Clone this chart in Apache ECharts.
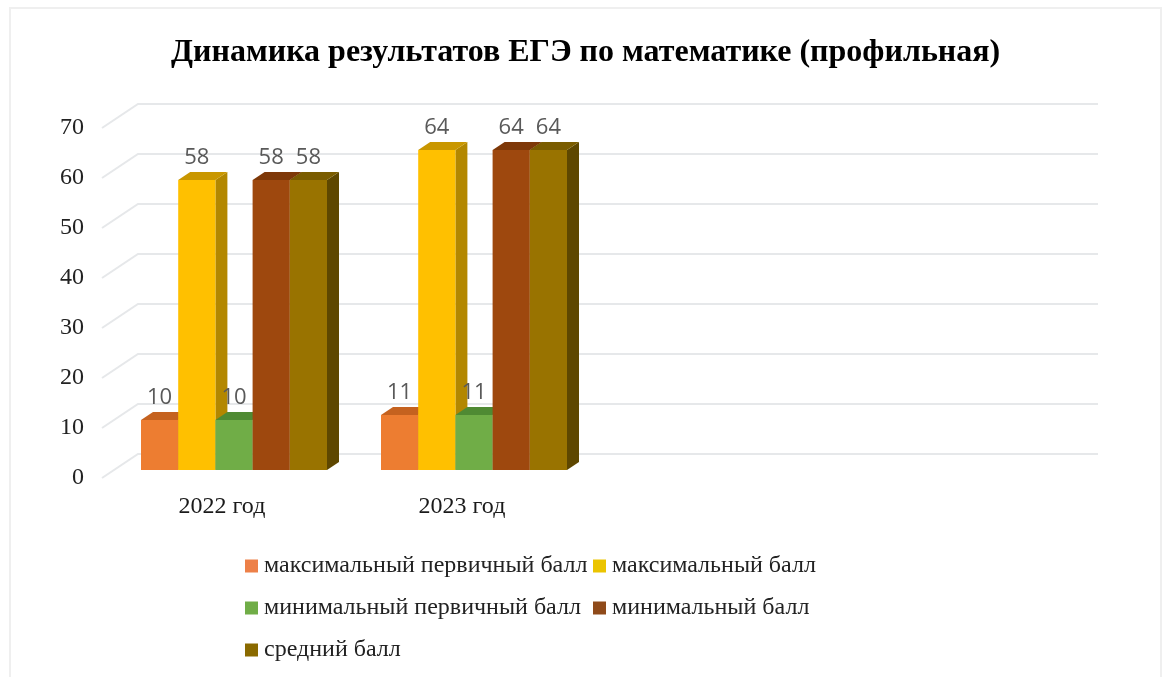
<!DOCTYPE html>
<html><head><meta charset="utf-8">
<style>html,body{margin:0;padding:0;background:#fff}#c{width:1162px;height:677px}</style>
<script src="https://cdn.jsdelivr.net/npm/echarts@6/dist/echarts.min.js"></script>
</head><body><div id="c"></div>
<script>
const titleText = 'Динамика результатов ЕГЭ по математике (профильная)';
const categories = ['2022 год', '2023 год', '', ''];
const yTicks = [0, 10, 20, 30, 40, 50, 60, 70];
const maxPrimary = [10, 11];
const maxScore = [58, 64];
const minPrimary = [10, 11];
const minScore = [58, 64];
const avgScore = [58, 64];
const seriesNames = ['максимальный первичный балл', 'максимальный балл', 'минимальный первичный балл', 'минимальный балл', 'средний балл'];
const seriesValues = [maxPrimary, maxScore, minPrimary, minScore, avgScore];
const frontColors = ['#ED7D31', '#FFC000', '#70AD47', '#9E480E', '#997300'];
const topColors = ['#C5621F', '#C99700', '#4F8A33', '#7E3808', '#7A5C00'];
const sideColors = ['#B05A20', '#B38700', '#4E7A32', '#6E3209', '#5E4700'];
const legendColors = ['#ED8048', '#EBC400', '#70AD47', '#8F4A1A', '#8A6A00'];

const chart = echarts.init(document.getElementById('c'), null, {renderer: 'canvas'});
const serif = '"Liberation Serif"';
const bd = [12, -8];   // offset of the bars' front from the axis plane
const bDepth = [12, -8];
const wall = [36, -24];

function barRender(i) {
  return function (params, api) {
    const idx = api.value(0), v = api.value(1);
    const p0 = api.coord([idx, 0]), p1 = api.coord([idx, v]);
    const w = api.size([1, 0])[0] * 0.155;
    const x0 = p0[0] + bd[0] + (i - 2.5) * w, x1 = x0 + w;
    const yb = p0[1] + bd[1], yt = p1[1] + bd[1];
    const dx = bDepth[0], dy = bDepth[1];
    return {type: 'group', children: [
      {type: 'polygon', z2: i * 2, shape: {points: [[x1, yb], [x1 + dx, yb + dy], [x1 + dx, yt + dy], [x1, yt]]}, style: {fill: sideColors[i]}},
      {type: 'polygon', z2: i * 2, shape: {points: [[x0, yt], [x0 + dx, yt + dy], [x1 + dx, yt + dy], [x1, yt]]}, style: {fill: topColors[i]}},
      {type: 'rect', z2: i * 2 + 1, shape: {x: x0, y: yt, width: w, height: yb - yt}, style: {fill: frontColors[i]}},
      {type: 'text', z2: 100, style: {text: String(v), x: x0 + w / 2, y: yt - 22, align: 'center', verticalAlign: 'middle', font: '22px "Open Sans"', fill: '#595959'}}
    ]};
  };
}

const series = seriesNames.map((name, i) => ({
  name, type: 'custom', coordinateSystem: 'cartesian2d',
  itemStyle: {color: legendColors[i]},
  renderItem: barRender(i),
  encode: {x: 0, y: 1},
  data: seriesValues[i].map((v, k) => [k, v])
}));

series.unshift({
  name: 'grid', type: 'custom', coordinateSystem: 'cartesian2d', silent: true,
  renderItem(params, api) {
    const c = params.coordSys;
    const y = api.coord([0, api.value(0)])[1];
    return {type: 'polyline', z2: -1, shape: {points: [[c.x, y], [c.x + wall[0], y + wall[1]], [c.x + c.width + wall[0], y + wall[1]]]}, style: {stroke: '#E6E8EA', lineWidth: 2, fill: null}};
  },
  encode: {y: 0},
  data: yTicks.map(v => [v])
});

function legendItem(i, left, top) {
  return {data: [seriesNames[i]], left, top, icon: 'rect', itemWidth: 13, itemHeight: 13, itemGap: 0,
    selectedMode: false, padding: 0,
    textStyle: {fontFamily: serif, fontSize: 24, color: '#222', padding: [0, 0, 0, 1]}};
}

chart.setOption({
  animation: false,
  backgroundColor: '#fff',
  graphic: [{type: 'rect', silent: true, shape: {x: 10, y: 8, width: 1151, height: 680}, style: {fill: null, stroke: '#EFEFEF', lineWidth: 2}}],
  title: {text: titleText, left: 166, top: 32, textStyle: {fontFamily: serif, fontWeight: 'bold', fontSize: 32, color: '#000'}},
  grid: {left: 102, width: 960, top: 128, height: 350},
  xAxis: {type: 'category', data: categories, axisLine: {show: false}, axisTick: {show: false}, splitLine: {show: false},
    axisLabel: {fontFamily: serif, fontSize: 24, color: '#1a1a1a', margin: 17, interval: 0}},
  yAxis: {type: 'value', min: 0, max: 70, interval: 10, axisLine: {show: false}, axisTick: {show: false}, splitLine: {show: false},
    axisLabel: {fontFamily: serif, fontSize: 24, color: '#222', margin: 18, padding: [5, 0, 0, 0]}},
  legend: [legendItem(0, 245, 554), legendItem(1, 593, 554), legendItem(2, 245, 596), legendItem(3, 593, 596), legendItem(4, 245, 638)],
  series
});
</script></body></html>
